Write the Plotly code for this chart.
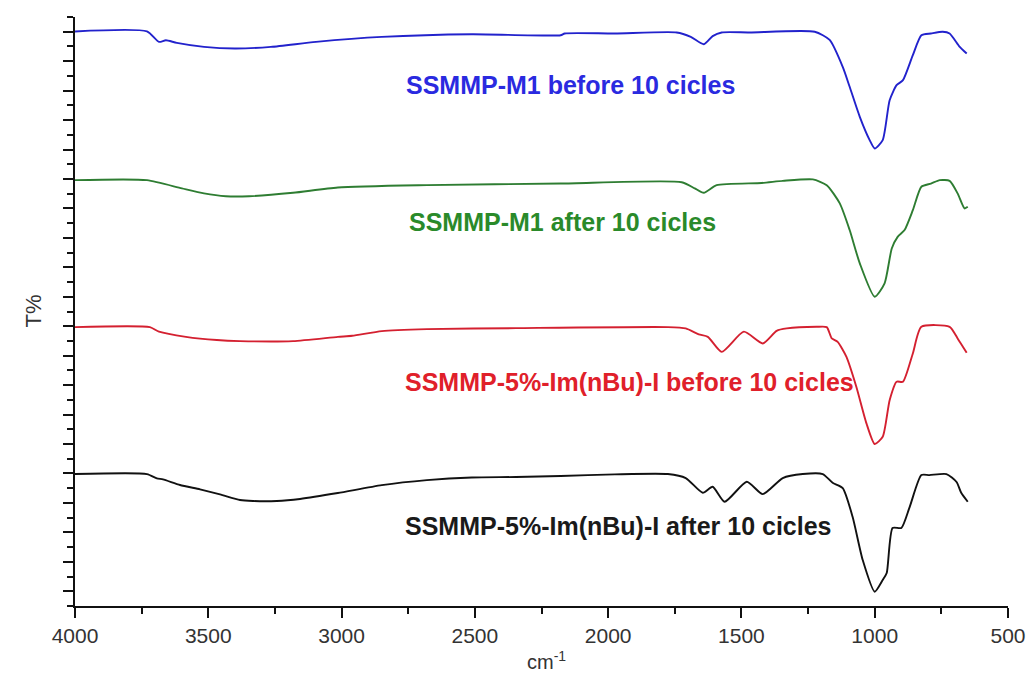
import plotly.graph_objects as go

wn_blue = [4000, 3730, 3685, 3659, 3618, 3516, 3400, 3265, 3096, 2849, 2511, 2178, 2163,
           1975, 1743, 1690, 1641, 1608, 1574, 1469, 1225, 1169, 1120, 1094, 1056, 1019,
           1000, 970, 944, 918, 894, 857, 825, 789, 745, 719, 681, 655]
t_blue = [39.02, 39.02, 38.31, 38.42, 38.24, 37.97, 37.86, 37.97, 38.31, 38.65, 38.83, 38.76, 38.88,
          38.88, 38.95, 38.65, 38.15, 38.70, 38.95, 38.95, 39.0, 38.44, 36.61, 35.26, 33.22, 31.64,
          31.07, 31.64, 34.35, 35.37, 35.71, 37.41, 38.76, 38.88, 39.0, 38.88, 37.97, 37.52]

wn_green = [4000, 3730, 3599, 3516, 3434, 3347, 3182, 3014, 2680, 2178, 1724, 1675, 1641,
            1593, 1424, 1345, 1232, 1180, 1131, 1094, 1056, 1000, 963, 936, 914, 888, 857,
            825, 789, 756, 719, 689, 663, 651]
t_green = [28.92, 28.92, 28.36, 28.02, 27.83, 27.83, 28.06, 28.42, 28.58, 28.69, 28.78, 28.36, 28.06,
           28.58, 28.73, 28.87, 28.97, 28.58, 27.34, 25.53, 23.27, 21.0, 21.91, 24.28, 25.07, 25.53, 26.88,
           28.47, 28.69, 28.92, 28.87, 28.02, 27.0, 27.11]

wn_red = [4000, 3719, 3685, 3584, 3468, 3381, 3182, 3014, 2960, 2849, 2680, 2346, 1776, 1709,
          1660, 1626, 1574, 1491, 1420, 1368, 1330, 1218, 1180, 1161, 1139, 1106, 1069, 1031,
          1000, 970, 944, 918, 894, 857, 825, 719, 689, 655]
t_red = [18.94, 18.94, 18.63, 18.28, 18.06, 17.99, 17.99, 18.28, 18.35, 18.67, 18.80, 18.87, 18.94, 18.85,
         18.45, 18.28, 17.26, 18.63, 17.83, 18.69, 18.85, 18.96, 18.94, 18.17, 17.94, 16.92, 14.89, 12.40,
         11.0, 11.49, 13.98, 15.23, 15.23, 17.15, 18.96, 18.96, 18.17, 17.2]

wn_black = [4000, 3730, 3693, 3670, 3606, 3531, 3456, 3381, 3332, 3243, 3156, 3014, 2849, 2680,
            2511, 2346, 2178, 1975, 1776, 1709, 1645, 1608, 1563, 1480, 1420, 1345, 1270, 1195,
            1158, 1120, 1083, 1045, 1000, 970, 955, 933, 900, 869, 825, 795, 731, 693, 675, 651]
t_black = [8.96, 8.96, 8.67, 8.60, 8.22, 7.92, 7.58, 7.20, 7.13, 7.13, 7.27, 7.67, 8.21, 8.55,
           8.73, 8.76, 8.83, 8.94, 8.96, 8.69, 7.69, 8.10, 7.08, 8.44, 7.60, 8.69, 8.96, 8.96,
           8.37, 8.01, 6.06, 3.12, 0.97, 1.77, 2.24, 5.30, 5.30, 6.72, 8.89, 8.89, 8.96, 8.42, 7.67, 7.08]

labels = ["SSMMP-M1 before 10 cicles", "SSMMP-M1 after 10 cicles",
          "SSMMP-5%-Im(nBu)-I before 10 cicles", "SSMMP-5%-Im(nBu)-I after 10 cicles"]
line_colors = ["#2222cc", "#2e7d32", "#d42030", "#111111"]
text_colors = ["#2a2ae0", "#2a8a2a", "#e0202a", "#1a1a1a"]
label_x = [2766, 2755, 2770, 2770]
label_y = [35.4, 26.1, 15.2, 5.4]

series = [(wn_blue, t_blue), (wn_green, t_green), (wn_red, t_red), (wn_black, t_black)]

fig = go.Figure()
for (wn, t), name, c in zip(series, labels, line_colors):
    fig.add_trace(go.Scatter(x=wn, y=t, mode="lines", name=name,
                             line=dict(color=c, width=1.9, shape="spline", smoothing=0.6)))

for name, c, lx, ly in zip(labels, text_colors, label_x, label_y):
    fig.add_annotation(x=lx, y=ly, text="<b>" + name + "</b>", showarrow=False,
                       xanchor="left", yanchor="middle",
                       font=dict(family="Liberation Sans, Arial", size=25, color=c))

# axis titles placed as annotations so the plot area stays fixed
fig.add_annotation(xref="paper", yref="paper", x=0, y=0.5, xshift=-42, xanchor="center",
                   text="T%", textangle=-90, showarrow=False,
                   font=dict(family="Liberation Sans, Arial", size=22, color="#333"))
fig.add_annotation(xref="paper", yref="paper", x=0.505, y=0, yshift=-54, text="cm<sup>-1</sup>",
                   showarrow=False, yanchor="middle",
                   font=dict(family="Liberation Sans, Arial", size=20, color="#333"))

fig.update_layout(
    width=1028, height=696,
    margin=dict(l=75, r=20, t=17, b=90),
    paper_bgcolor="white", plot_bgcolor="white",
    showlegend=False,
    font=dict(family="Liberation Sans, Arial", color="#333"),
)
fig.update_xaxes(range=[4000, 500], tickvals=[4000, 3500, 3000, 2500, 2000, 1500, 1000, 500],
                 ticks="outside", ticklen=10, tickwidth=2, tickcolor="#111",
                 minor=dict(dtick=250, ticks="outside", ticklen=6, tickwidth=2, tickcolor="#111"),
                 showline=True, linecolor="#111", linewidth=2, showgrid=False, zeroline=False,
                 automargin=False, tickfont=dict(size=21, color="#333"))
fig.update_yaxes(range=[0, 40], tick0=1, dtick=2, showticklabels=False,
                 ticks="outside", ticklen=10, tickwidth=2, tickcolor="#111",
                 minor=dict(dtick=1, ticks="outside", ticklen=6, tickwidth=2, tickcolor="#111"),
                 showline=True, linecolor="#111", linewidth=2, showgrid=False, zeroline=False,
                 automargin=False)

# drop the page's default body margin so the figure sits at the window's corner
fig.write_html("out.html", config={"displayModeBar": False},
               post_script="document.body.style.margin='0';")
